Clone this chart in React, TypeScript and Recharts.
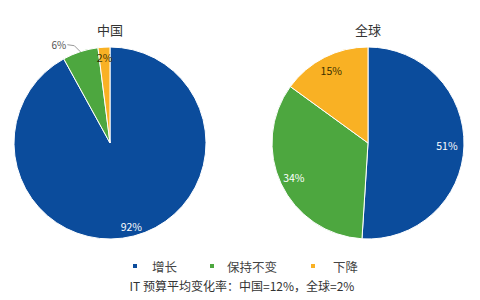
import React from "react";
import { PieChart, Pie, Cell } from "recharts";

const categories = ["增长", "保持不变", "下降"];
const chinaValues = [92, 6, 2];
const globalValues = [51, 34, 15];
const titles = ["中国", "全球"];
const caption = "IT 预算平均变化率：中国=12%，全球=2%";

const COLORS = ["#0B4C9C", "#4DA73F", "#F9B124"];
const LABEL_COLORS = ["#FFFFFF", "#FFFFFF", "#3A3000"];
const FONT = "'Noto Sans CJK SC', 'Noto Sans', sans-serif";

const chinaData = categories.map((name, i) => ({ name, value: chinaValues[i] }));
const globalData = categories.map((name, i) => ({ name, value: globalValues[i] }));

const RAD = Math.PI / 180;

const makeLabel = (radii: number[], outside: boolean[]) => (props: any) => {
  const { cx, cy, midAngle, outerRadius, index, value } = props;
  const r = radii[index];
  const x = cx + r * Math.cos(-midAngle * RAD);
  const y = cy + r * Math.sin(-midAngle * RAD);
  if (outside[index]) {
    const ex = cx + outerRadius * Math.cos(-midAngle * RAD);
    const ey = cy + outerRadius * Math.sin(-midAngle * RAD);
    const tx = ex - 14;
    const ty = ey - 7;
    return (
      <g>
        <path d={`M${ex},${ey} L${ex - 6},${ty + 1} L${tx + 1},${ty}`} stroke="#999" fill="none" strokeWidth={1} />
        <text x={tx} y={ty} textAnchor="end" dominantBaseline="central" fontSize={10} fill="#555" fontFamily={FONT}>
          {`${value}%`}
        </text>
      </g>
    );
  }
  return (
    <text x={x} y={y} textAnchor="middle" dominantBaseline="central" fontSize={10.5} fill={LABEL_COLORS[index]} fontFamily={FONT}>
      {`${value}%`}
    </text>
  );
};

const chinaLabel = makeLabel([86, 112, 86], [false, true, false]);
const globalLabel = makeLabel([79, 82, 81], [false, false, false]);

export default function App() {
  return (
    <div style={{ position: "absolute", left: 0, top: 0, width: 480, height: 300, background: "#fff" }}>
      <PieChart width={480} height={300} margin={{ top: 0, right: 0, bottom: 0, left: 0 }}>
        <text x={110} y={29} textAnchor="middle" dominantBaseline="central" fontSize={13} fill="#333" fontFamily={FONT}>
          {titles[0]}
        </text>
        <text x={368} y={29} textAnchor="middle" dominantBaseline="central" fontSize={13} fill="#333" fontFamily={FONT}>
          {titles[1]}
        </text>
        <Pie
          data={chinaData}
          dataKey="value"
          nameKey="name"
          cx={110}
          cy={143}
          outerRadius={96}
          startAngle={90}
          endAngle={-270}
          stroke="#fff"
          strokeWidth={1}
          label={chinaLabel}
          labelLine={false}
          isAnimationActive={false}
        >
          {chinaData.map((_, i) => (
            <Cell key={i} fill={COLORS[i]} />
          ))}
        </Pie>
        <Pie
          data={globalData}
          dataKey="value"
          nameKey="name"
          cx={368}
          cy={143}
          outerRadius={96}
          startAngle={90}
          endAngle={-270}
          stroke="#fff"
          strokeWidth={1}
          label={globalLabel}
          labelLine={false}
          isAnimationActive={false}
        >
          {globalData.map((_, i) => (
            <Cell key={i} fill={COLORS[i]} />
          ))}
        </Pie>
        {[
          { dot: 135, text: 152 },
          { dot: 212, text: 227 },
          { dot: 313, text: 333 },
        ].map((p, i) => (
          <g key={i}>
            <rect x={p.dot - 2} y={264} width={4} height={4} fill={COLORS[i]} />
            <text x={p.text} y={266} dominantBaseline="central" fontSize={12.5} fill="#444" fontFamily={FONT}>
              {categories[i]}
            </text>
          </g>
        ))}
        <text x={242} y={285} textAnchor="middle" dominantBaseline="central" fontSize={12} fill="#333" fontFamily={FONT}>
          {caption}
        </text>
      </PieChart>
    </div>
  );
}
